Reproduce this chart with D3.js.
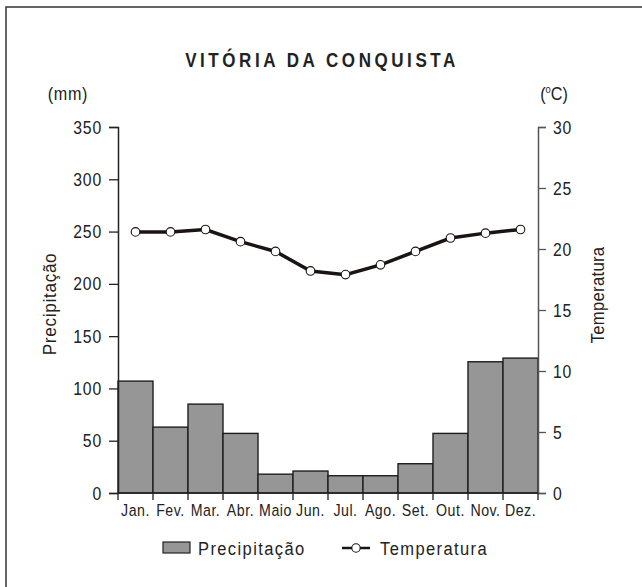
<!DOCTYPE html>
<html>
<head>
<meta charset="utf-8">
<script src="https://cdn.jsdelivr.net/npm/d3@7"></script>
<style>
  html, body { margin: 0; padding: 0; background: #fff; }
  svg text { font-family: "Liberation Sans", Arial, sans-serif; fill: #222; }
</style>
</head>
<body>
<div id="chart"></div>
<script>
// Data
const months = ["Jan.", "Fev.", "Mar.", "Abr.", "Maio", "Jun.", "Jul.", "Ago.", "Set.", "Out.", "Nov.", "Dez."];
const precipitation = [107, 63, 85, 57, 18, 21, 16.5, 16.5, 28, 57, 125.5, 129];
const temperature = [21.4, 21.4, 21.6, 20.6, 19.8, 18.2, 17.9, 18.7, 19.8, 20.9, 21.3, 21.6];
const precipTicks = [0, 50, 100, 150, 200, 250, 300, 350];
const tempTicks = [0, 5, 10, 15, 20, 25, 30];

const W = 642, H = 587;
const margin = { left: 118, right: 104, top: 127, bottom: 94 };
const innerW = W - margin.left - margin.right;
const innerH = H - margin.top - margin.bottom;
const FONT = '"Liberation Sans", Arial, sans-serif';

// squeeze text horizontally around its anchor point (the original uses a narrow face)
const narrow = (sel, k) => sel.each(function () {
    const t = d3.select(this);
    const x = +t.attr("x") || 0, y = +t.attr("y") || 0;
    t.attr("transform", `translate(${x},${y}) scale(${k},1) translate(${-x},${-y})`);
});

const svg = d3.select("#chart").append("svg")
    .attr("width", W)
    .attr("height", H);

// Outer frame (only top and left edges fall inside the picture)
svg.append("rect")
    .attr("x", 6).attr("y", 7)
    .attr("width", W + 10).attr("height", H + 10)
    .attr("fill", "none")
    .attr("stroke", "#333")
    .attr("stroke-width", 1.5);

// Title
svg.append("text")
    .attr("x", 322).attr("y", 67)
    .attr("text-anchor", "middle")
    .attr("font-size", 20)
    .attr("font-weight", "bold")
    .attr("letter-spacing", 4.2)
    .text("VITÓRIA DA CONQUISTA")
    .call(narrow, 0.85);

const g = svg.append("g").attr("transform", `translate(${margin.left},${margin.top})`);

// Scales
const x = d3.scaleBand().domain(months).range([0, innerW]).padding(0);
const yP = d3.scaleLinear().domain([0, 350]).range([innerH, 0]);
const yT = d3.scaleLinear().domain([0, 30]).range([innerH, 0]);

// Bars
g.selectAll("rect.bar")
    .data(precipitation)
    .enter()
    .append("rect")
    .attr("class", "bar")
    .attr("x", (d, i) => x(months[i]))
    .attr("y", d => yP(d))
    .attr("width", x.bandwidth())
    .attr("height", d => innerH - yP(d))
    .attr("fill", "#969696")
    .attr("stroke", "#1e1e1e")
    .attr("stroke-width", 1.4);

// Left axis
const leftAxis = g.append("g")
    .call(d3.axisLeft(yP).tickValues(precipTicks).tickSize(9).tickPadding(7));
leftAxis.select(".domain").attr("stroke", "#222").attr("stroke-width", 1.5);
leftAxis.selectAll(".tick line").attr("stroke", "#222").attr("stroke-width", 1.3);
leftAxis.selectAll(".tick text").attr("font-size", 19).attr("fill", "#222")
    .attr("letter-spacing", 1).attr("font-family", FONT)
    .call(narrow, 0.83);

// Right axis
const rightAxis = g.append("g")
    .attr("transform", `translate(${innerW},0)`)
    .call(d3.axisRight(yT).tickValues(tempTicks).tickSize(8).tickPadding(7));
rightAxis.select(".domain").attr("stroke", "#555").attr("stroke-width", 1.5);
rightAxis.selectAll(".tick line").attr("stroke", "#555").attr("stroke-width", 1.3);
rightAxis.selectAll(".tick text").attr("font-size", 19).attr("fill", "#222")
    .attr("letter-spacing", 1).attr("font-family", FONT)
    .call(narrow, 0.83);

// Bottom axis: ticks at band edges
const bottom = g.append("g").attr("transform", `translate(0,${innerH})`);
bottom.append("line")
    .attr("x1", 0).attr("x2", innerW)
    .attr("stroke", "#222").attr("stroke-width", 1.5);
const edges = months.map(m => x(m)).concat([innerW]);
bottom.selectAll("line.edge")
    .data(edges)
    .enter()
    .append("line")
    .attr("class", "edge")
    .attr("x1", d => d).attr("x2", d => d)
    .attr("y1", 0).attr("y2", 7)
    .attr("stroke", "#222").attr("stroke-width", 1.3);
bottom.selectAll("text")
    .data(months)
    .enter()
    .append("text")
    .attr("x", d => x(d) + x.bandwidth() / 2)
    .attr("y", 23)
    .attr("text-anchor", "middle")
    .attr("font-size", 16.5)
    .attr("letter-spacing", 0.6)
    .text(d => d)
    .call(narrow, 0.86);

// Temperature line
const line = d3.line()
    .x((d, i) => x(months[i]) + x.bandwidth() / 2)
    .y(d => yT(d));
g.append("path")
    .datum(temperature)
    .attr("d", line)
    .attr("fill", "none")
    .attr("stroke", "#1a1414")
    .attr("stroke-width", 3.5);
g.selectAll("circle.pt")
    .data(temperature)
    .enter()
    .append("circle")
    .attr("class", "pt")
    .attr("cx", (d, i) => x(months[i]) + x.bandwidth() / 2)
    .attr("cy", d => yT(d))
    .attr("r", 4.3)
    .attr("fill", "#fff")
    .attr("stroke", "#1a1414")
    .attr("stroke-width", 1.1);

// Unit labels
svg.append("text")
    .attr("x", 68).attr("y", 100)
    .attr("text-anchor", "middle")
    .attr("font-size", 19)
    .attr("letter-spacing", 0.8)
    .text("(mm)")
    .call(narrow, 0.85);
const cLab = svg.append("text")
    .attr("x", 554).attr("y", 100)
    .attr("text-anchor", "middle")
    .attr("font-size", 19);
cLab.append("tspan").text("(");
cLab.append("tspan").attr("font-size", 11).attr("dy", -7).text("o");
cLab.append("tspan").attr("dy", 7).text("C)");
cLab.call(narrow, 0.85);

// Axis titles
svg.append("text")
    .attr("transform", `translate(56,${margin.top + innerH / 2 - 6}) rotate(-90) scale(0.9,1)`)
    .attr("text-anchor", "middle")
    .attr("font-size", 19)
    .attr("letter-spacing", 0.8)
    .text("Precipitação");
svg.append("text")
    .attr("transform", `translate(604,${margin.top + innerH / 2 - 15}) rotate(-90) scale(0.88,1)`)
    .attr("text-anchor", "middle")
    .attr("font-size", 19)
    .attr("letter-spacing", 0.3)
    .text("Temperatura");

// Legend
const legend = svg.append("g").attr("transform", "translate(0,548)");
legend.append("rect")
    .attr("x", 163).attr("y", -6)
    .attr("width", 27).attr("height", 11)
    .attr("fill", "#969696")
    .attr("stroke", "#222")
    .attr("stroke-width", 1.2);
legend.append("text")
    .attr("x", 198).attr("y", 7)
    .attr("font-size", 19)
    .attr("letter-spacing", 1.6)
    .text("Precipitação")
    .call(narrow, 0.87);
legend.append("line")
    .attr("x1", 342).attr("x2", 370)
    .attr("stroke", "#1a1414").attr("stroke-width", 2.5);
legend.append("circle")
    .attr("cx", 356).attr("cy", 0).attr("r", 4.2)
    .attr("fill", "#fff").attr("stroke", "#1a1414").attr("stroke-width", 1.1);
legend.append("text")
    .attr("x", 380).attr("y", 7)
    .attr("font-size", 19)
    .attr("letter-spacing", 1.6)
    .text("Temperatura")
    .call(narrow, 0.87);
</script>
</body>
</html>
